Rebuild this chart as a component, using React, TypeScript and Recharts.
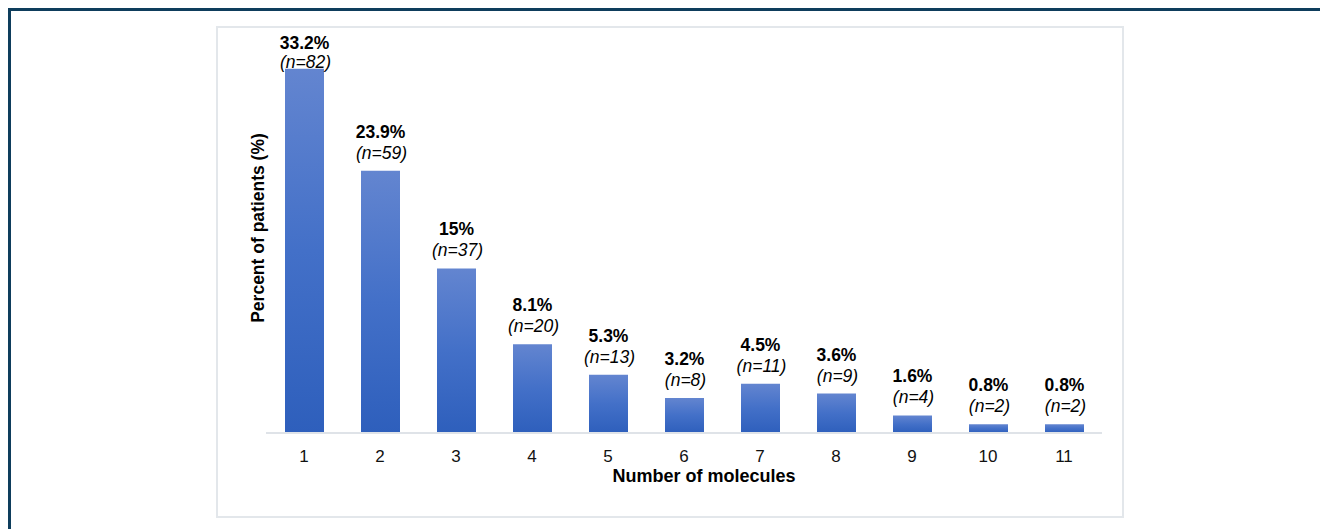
import React from "react";
import { BarChart, Bar, XAxis, YAxis, LabelList, Label } from "recharts";

const categories = ["1", "2", "3", "4", "5", "6", "7", "8", "9", "10", "11"];
const percentValues = [33.2, 23.9, 15, 8.1, 5.3, 3.2, 4.5, 3.6, 1.6, 0.8, 0.8];
const percentLabels = ["33.2%", "23.9%", "15%", "8.1%", "5.3%", "3.2%", "4.5%", "3.6%", "1.6%", "0.8%", "0.8%"];
const patientCounts = [82, 59, 37, 20, 13, 8, 11, 9, 4, 2, 2];

const data = categories.map((c, i) => ({
  molecules: c,
  percent: percentValues[i],
  label: percentLabels[i],
  n: patientCounts[i],
}));

const FONT = "'Liberation Sans', Arial, Helvetica, sans-serif";

const BarLabel = (props: any) => {
  const { x, y, width, index } = props;
  const cx = x + width / 2;
  const boldY = Math.max(y - 33, 49);
  const italY = Math.max(y - 12, 68);
  return (
    <g>
      <text x={cx} y={boldY} textAnchor="middle" fontFamily={FONT} fontSize={17.5} fontWeight="bold" fill="#000">
        {percentLabels[index]}
      </text>
      <text x={cx + 1} y={italY} textAnchor="middle" fontFamily={FONT} fontSize={17.5} fontStyle="italic" fill="#000">
        {`(n=${patientCounts[index]})`}
      </text>
    </g>
  );
};

export default function App() {
  return (
    <div style={{ position: "absolute", left: 0, top: 0, width: 1320, height: 529, background: "#fff", overflow: "hidden" }}>
      <div
        style={{
          position: "absolute",
          left: 8,
          top: 8,
          width: 1330,
          height: 540,
          borderTop: "3px solid #0e3d5c",
          borderLeft: "3px solid #0e3d5c",
          boxSizing: "border-box",
        }}
      />
      <div
        style={{
          position: "absolute",
          left: 216,
          top: 26,
          width: 908,
          height: 492,
          border: "2px solid #e3e7eb",
          boxSizing: "border-box",
        }}
      />
      <div style={{ position: "absolute", left: 0, top: 0 }}>
        <BarChart
          width={1320}
          height={529}
          data={data}
          margin={{ top: 49, right: 218, left: 266, bottom: 0 }}
        >
          <defs>
            <linearGradient id="barGrad" x1="0" y1="0" x2="0" y2="1">
              <stop offset="0%" stopColor="#6385d0" />
              <stop offset="50%" stopColor="#4370c8" />
              <stop offset="100%" stopColor="#2e5fbc" />
            </linearGradient>
          </defs>
          <XAxis
            dataKey="molecules"
            height={96}
            tickLine={false}
            tickSize={0}
            tickMargin={17}
            axisLine={{ stroke: "#dfe3e8", strokeWidth: 2 }}
            tick={{ fill: "#111", fontSize: 17, fontFamily: FONT }}
            interval={0}
          >
            <Label
              value="Number of molecules"
              position="insideBottom"
              offset={47}
              dx={20}
              fill="#000"
              fontSize={18}
              fontWeight="bold"
              fontFamily={FONT}
            />
          </XAxis>
          <YAxis domain={[0, 35]} hide />
          <Bar dataKey="percent" fill="url(#barGrad)" barSize={39} isAnimationActive={false}>
            <LabelList dataKey="percent" content={<BarLabel />} />
          </Bar>
        </BarChart>
      </div>
      <svg
        width={40}
        height={300}
        style={{ position: "absolute", left: 233, top: 81, overflow: "visible" }}
      >
        <text
          x={31}
          y={147}
          transform="rotate(-90, 31, 147)"
          textAnchor="middle"
          fontFamily={FONT}
          fontSize={17.5}
          fontWeight="bold"
          fill="#000"
        >
          Percent of patients (%)
        </text>
      </svg>
    </div>
  );
}
